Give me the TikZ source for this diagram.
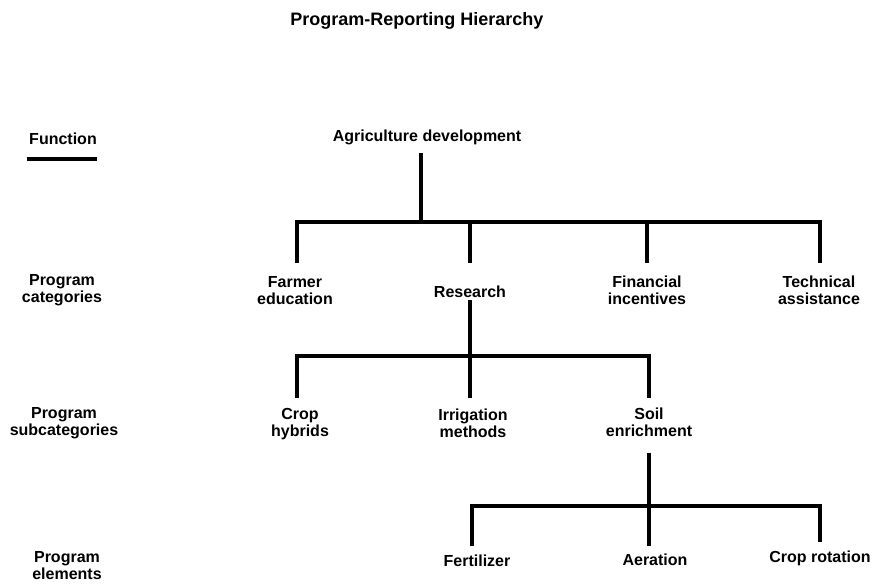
\documentclass[tikz,border=0pt]{standalone}
\usepackage{fontspec}
\setmainfont{Liberation Sans}

\begin{document}
\begin{tikzpicture}[x=1pt, y=-1pt,
    lbl/.style={font=\bfseries\fontsize{16}{17}\selectfont, align=center, inner sep=0pt},
    tree/.style={line width=3.5pt, line join=miter}]
    \useasboundingbox (0,0) rectangle (872,584);

    % Title
    \node[lbl, font=\bfseries\fontsize{18}{20}\selectfont] (title) at (417,21) {Program-Reporting Hierarchy};

    % Level names (left column)
    \node[lbl] (function) at (63,139) {Function};
    \coordinate (ul1) at (27,159);
    \coordinate (ul2) at (97,159);
    \draw[tree] (ul1) -- (ul2);
    \node[lbl] (categories) at (62,290.5) {Program\\categories};
    \node[lbl] (subcategories) at (64,423) {Program\\subcategories};
    \node[lbl] (elements) at (67,566) {Program\\elements};

    % Function
    \node[lbl] (agri) at (427,137) {Agriculture development};

    % Program categories
    \node[lbl] (farmer) at (295,290.5) {Farmer\\education};
    \node[lbl] (research) at (470,292) {Research};
    \node[lbl] (financial) at (647,290.5) {Financial\\incentives};
    \node[lbl] (technical) at (819,290.5) {Technical\\assistance};

    % Program subcategories
    \node[lbl] (crop) at (300,424) {Crop\\hybrids};
    \node[lbl] (irrigation) at (473,423) {Irrigation\\methods};
    \node[lbl] (soil) at (649,422) {Soil\\enrichment};

    % Program elements
    \node[lbl] (fertilizer) at (477,561) {Fertilizer};
    \node[lbl] (aeration) at (655,560) {Aeration};
    \node[lbl] (rotation) at (820,558) {Crop rotation};

    % Line ends under parents and above children
    \coordinate (agri-b) at (421,153);
    \coordinate (agri-j) at (421,222);
    \coordinate (farmer-t) at (297,263);
    \coordinate (research-t) at (470,263);
    \coordinate (financial-t) at (647,263);
    \coordinate (technical-t) at (820,263);

    \coordinate (research-b) at (470,300);
    \coordinate (research-j) at (470,356);
    \coordinate (crop-t) at (297,398);
    \coordinate (irrigation-t) at (470,398);
    \coordinate (soil-t) at (649,398);

    \coordinate (soil-b) at (649,453);
    \coordinate (soil-j) at (649,506);
    \coordinate (fertilizer-t) at (472,546);
    \coordinate (aeration-t) at (649,546);
    \coordinate (rotation-t) at (820,542);

    % Agriculture development -> categories
    \draw[tree] (agri-b) -- (agri-j);
    \draw[tree] (farmer-t) |- (agri-j) -| (technical-t);
    \draw[tree] (research-t) -- (research-t |- agri-j);
    \draw[tree] (financial-t) -- (financial-t |- agri-j);

    % Research -> subcategories
    \draw[tree] (research-b) -- (research-j);
    \draw[tree] (crop-t) |- (research-j) -| (soil-t);
    \draw[tree] (irrigation-t) -- (irrigation-t |- research-j);

    % Soil enrichment -> elements
    \draw[tree] (soil-b) -- (soil-j);
    \draw[tree] (fertilizer-t) |- (soil-j) -| (rotation-t);
    \draw[tree] (aeration-t) -- (aeration-t |- soil-j);
\end{tikzpicture}
\end{document}
